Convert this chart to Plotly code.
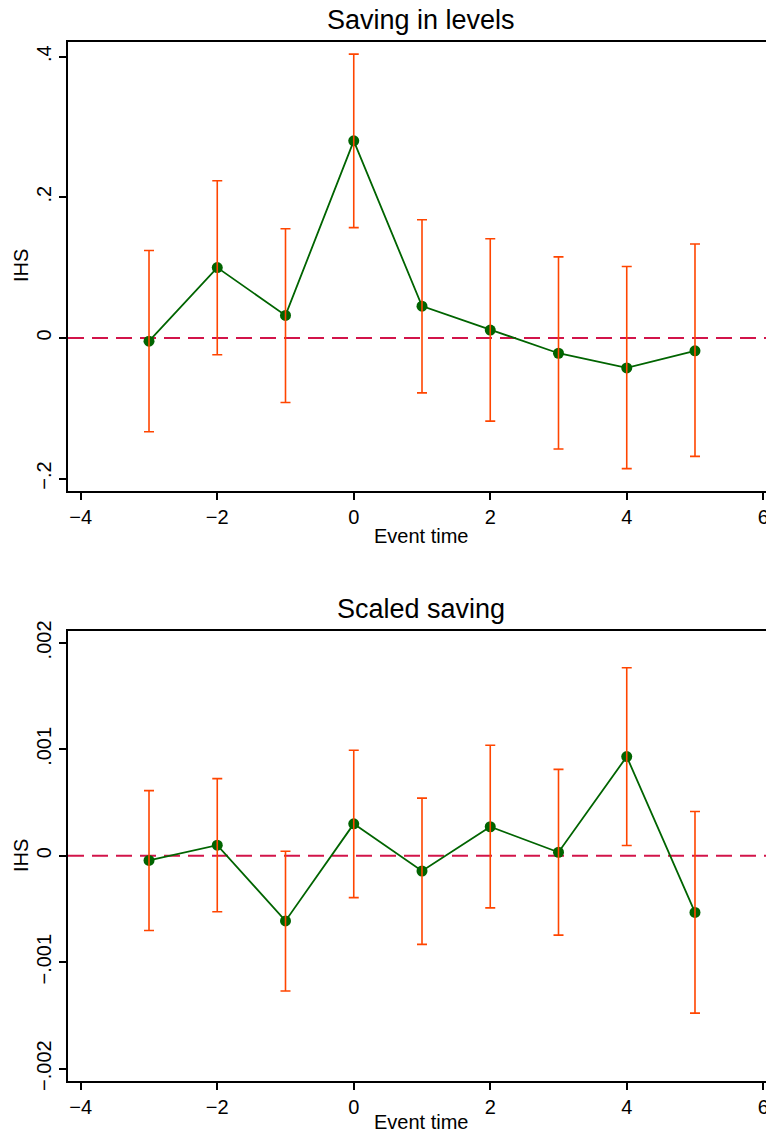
import plotly.graph_objects as go

# ---- data ----
event_time = [-3, -2, -1, 0, 1, 2, 3, 4, 5]

levels_coef = [-0.0046, 0.1000, 0.0320, 0.2802, 0.0452, 0.0112, -0.0218, -0.0426, -0.0183]
levels_hi = [0.1244, 0.2234, 0.1553, 0.4036, 0.1680, 0.1411, 0.1152, 0.1015, 0.1335]
levels_lo = [-0.1335, -0.0239, -0.0919, 0.1569, -0.0782, -0.1183, -0.1579, -0.1858, -0.1685]

scaled_coef = [-0.0000433, 0.000100, -0.000612, 0.000300, -0.000143, 0.000273, 0.0000333, 0.000932, -0.000532]
scaled_hi = [0.000612, 0.000725, 0.0000433, 0.000992, 0.000542, 0.001038, 0.000812, 0.001767, 0.000416]
scaled_lo = [-0.000702, -0.000526, -0.001271, -0.000393, -0.000832, -0.000489, -0.000745, 0.0000965, -0.001478]

x_tickvals = [-4, -2, 0, 2, 4, 6]
x_ticktext = ["\u22124", "\u22122", "0", "2", "4", "6"]
y1_tickvals = [-0.2, 0, 0.2, 0.4]
y1_ticktext = ["\u2212.2", "0", ".2", ".4"]
y2_tickvals = [-0.002, -0.001, 0, 0.001, 0.002]
y2_ticktext = ["\u2212.002", "\u2212.001", "0", ".001", ".002"]

titles = ["Saving in levels", "Scaled saving"]
x_title = "Event time"
y_title = "IHS"

# ---- styles ----
GREEN = "#006400"
ORANGE = "#FF4500"
ZERO = "#D2144A"
FONT = "Liberation Sans, Arial, Helvetica, sans-serif"

FIG_W = 790   # wider than the 766 window: right frame edge falls outside, as in the reference
L, R, T, B = 68, 14, 42, 54

fig = go.Figure()

panels = [
    (levels_coef, levels_hi, levels_lo, "x", "y"),
    (scaled_coef, scaled_hi, scaled_lo, "x2", "y2"),
]
for coef, hi, lo, xa, ya in panels:
    plus = [h - c for h, c in zip(hi, coef)]
    minus = [c - l for c, l in zip(coef, lo)]
    fig.add_trace(go.Scatter(
        x=event_time, y=coef, mode="lines+markers", xaxis=xa, yaxis=ya,
        line=dict(color=GREEN, width=1.8),
        marker=dict(color=GREEN, size=11, line=dict(width=0)),
        showlegend=False, hoverinfo="skip",
    ))
    fig.add_trace(go.Scatter(
        x=event_time, y=coef, mode="markers", xaxis=xa, yaxis=ya,
        marker=dict(color=ORANGE, size=1, opacity=0),
        error_y=dict(type="data", symmetric=False, array=plus, arrayminus=minus,
                     color=ORANGE, thickness=1.6, width=5),
        showlegend=False, hoverinfo="skip",
    ))

axis_common = dict(
    showline=True, mirror=True, linecolor="black", linewidth=1.5,
    ticks="outside", ticklen=7, tickwidth=1.5, tickcolor="black",
    showgrid=False, zeroline=False, ticklabeloverflow="allow", automargin=False,
    tickfont=dict(family=FONT, size=20, color="black"),
)

X_RANGE = [-4.187, 6.187]

fig.update_layout(
    width=FIG_W, height=1135,
    margin=dict(l=L, r=R, t=T, b=B),
    paper_bgcolor="white", plot_bgcolor="white",
    font=dict(family=FONT, size=20, color="black"),
    xaxis=dict(domain=[0, 1], anchor="y", range=X_RANGE,
               tickvals=x_tickvals, ticktext=x_ticktext, **axis_common),
    yaxis=dict(domain=[0.5675, 1], anchor="x", range=[-0.2182, 0.4208],
               tickvals=y1_tickvals, ticktext=y1_ticktext, tickangle=-90, **axis_common),
    xaxis2=dict(domain=[0, 1], anchor="y2", range=X_RANGE,
                tickvals=x_tickvals, ticktext=x_ticktext, **axis_common),
    yaxis2=dict(domain=[0, 0.4335], anchor="x2", range=[-0.002116, 0.002116],
                tickvals=y2_tickvals, ticktext=y2_ticktext, tickangle=-90, **axis_common),
    shapes=[
        dict(type="line", xref="x domain", yref="y", x0=0, x1=1, y0=0, y1=0,
             line=dict(color=ZERO, width=2, dash="16px,8px"), layer="below"),
        dict(type="line", xref="x2 domain", yref="y2", x0=0, x1=1, y0=0, y1=0,
             line=dict(color=ZERO, width=2, dash="16px,8px"), layer="below"),
    ],
)

W = float(FIG_W - L - R)
H = float(1135 - T - B)
def px_x(p):
    return (p - L) / W
def px_y(p):
    return (1135 - B - p) / H

annotations = [
    dict(text=titles[0], x=px_x(421), y=px_y(20), font=dict(size=27)),
    dict(text=titles[1], x=px_x(421), y=px_y(609), font=dict(size=27)),
    dict(text=x_title, x=px_x(421), y=px_y(536), font=dict(size=20)),
    dict(text=x_title, x=px_x(421), y=px_y(1122), font=dict(size=20)),
    dict(text=y_title, x=px_x(21), y=px_y(266), font=dict(size=20), textangle=-90),
    dict(text=y_title, x=px_x(21), y=px_y(856), font=dict(size=20), textangle=-90),
]
for a in annotations:
    a.update(xref="paper", yref="paper", xanchor="center", yanchor="middle", showarrow=False)
    a["font"].update(family=FONT, color="black")
fig.update_layout(annotations=annotations)

fig.write_html(
    "out.html",
    config={"displayModeBar": False},
    post_script="document.body.style.margin='0';document.body.style.overflow='hidden';",
)
